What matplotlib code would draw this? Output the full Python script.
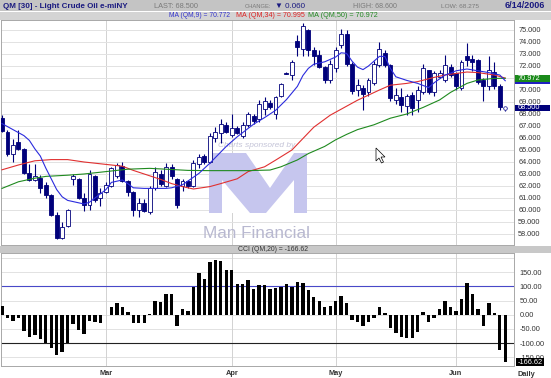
import numpy as np
import pandas as pd
import matplotlib
matplotlib.use('Agg')
import matplotlib.pyplot as plt
from matplotlib.transforms import Affine2D, blended_transform_factory
from matplotlib.patches import Rectangle, Polygon

# ---------------- data ----------------
dates = pd.bdate_range('2006-02-01', '2006-06-14')
holidays = pd.to_datetime(['2006-02-20', '2006-04-14', '2006-05-29'])
dates = dates[~dates.isin(holidays)]

opens = [67.7, 66.5, 64.7, 65.7, 65.1, 63.1, 62.5, 62.7, 62.1, 61.25,
         59.6, 57.65, 58.7, 62.55, 62.6, 61.0, 60.4, 62.8, 61.0, 61.5,
         62.0, 62.8, 63.7, 62.4, 61.5, 60.0, 60.6, 59.85, 61.8, 63.0,
         62.0, 63.6, 62.6, 62.0, 62.4, 62.0, 63.8, 64.5, 64.0, 66.0,
         66.4, 67.1, 66.25, 66.8, 66.2, 67.1, 67.8, 67.6, 68.4, 68.95,
         68.0, 69.5, 71.4, 71.25, 74.1, 73.4, 75.0, 73.3, 72.9, 71.95,
         70.85, 71.8, 73.75, 74.65, 72.2, 70.0, 70.2, 69.8, 70.6, 72.1,
         73.05, 72.1, 69.2, 69.45, 68.7, 69.6, 69.2, 69.85, 71.65, 69.85,
         71.1, 70.8, 71.95, 71.4, 70.15, 72.8, 72.6, 72.5, 70.85, 70.3,
         71.5, 70.3, 68.5]
highs = [67.9, 66.7, 65.9, 66.7, 65.2, 63.8, 63.8, 62.9, 62.3, 61.3,
         59.8, 59.0, 60.1, 63.0, 62.7, 61.4, 63.3, 62.9, 61.8, 62.3,
         63.6, 63.9, 64.0, 62.5, 61.6, 61.0, 60.9, 62.0, 63.6, 63.3,
         63.9, 63.8, 62.7, 62.6, 62.5, 64.2, 64.7, 64.7, 66.4, 66.9,
         67.6, 67.3, 68.0, 67.0, 67.3, 68.2, 68.0, 69.2, 69.4, 69.2,
         69.5, 70.6, 71.5, 72.5, 74.6, 75.6, 75.1, 73.6, 73.3, 72.0,
         72.5, 73.6, 75.1, 75.0, 72.3, 70.9, 70.4, 71.0, 72.4, 74.0,
         73.3, 72.2, 70.2, 70.2, 69.7, 69.8, 70.3, 72.2, 71.7, 71.6,
         71.7, 72.9, 72.2, 71.5, 72.5, 73.9, 72.9, 72.6, 71.0, 72.8,
         72.3, 70.5, 68.6]
lows = [66.5, 64.5, 64.0, 65.0, 63.0, 62.4, 62.4, 61.4, 61.0, 59.5,
        57.6, 57.6, 58.6, 62.1, 60.9, 59.9, 60.0, 60.7, 60.3, 61.4,
        61.9, 62.7, 62.3, 61.2, 59.5, 59.4, 59.8, 59.7, 61.7, 62.0,
        61.9, 62.6, 60.2, 61.6, 61.8, 61.9, 63.5, 63.8, 63.9, 65.7,
        65.6, 66.4, 66.1, 66.3, 66.0, 66.9, 67.2, 67.3, 67.9, 68.4,
        67.6, 69.4, 71.3, 70.8, 72.8, 72.8, 72.8, 72.1, 71.8, 70.6,
        70.6, 71.5, 73.5, 72.0, 69.7, 69.5, 68.3, 69.5, 70.4, 71.9,
        71.9, 69.1, 68.8, 68.2, 67.9, 67.9, 68.2, 69.7, 69.7, 69.5,
        71.0, 70.7, 71.1, 70.0, 70.0, 72.0, 71.6, 70.5, 69.1, 70.0,
        70.1, 68.3, 68.275]
closes = [66.6, 64.7, 65.4, 65.1, 63.05, 62.5, 62.8, 61.8, 61.25, 59.6,
          57.65, 58.6, 60.0, 62.8, 61.0, 60.45, 63.0, 60.8, 61.45, 62.1,
          63.5, 63.75, 62.4, 61.5, 60.0, 60.6, 59.95, 61.8, 63.2, 62.2,
          63.6, 62.8, 60.4, 62.4, 62.0, 63.9, 64.4, 64.0, 66.2, 66.5,
          67.2, 66.5, 66.8, 66.4, 67.1, 68.0, 67.4, 68.8, 69.1, 68.55,
          69.4, 70.5, 71.35, 72.3, 73.6, 75.3, 73.3, 72.8, 71.95, 70.85,
          72.2, 73.3, 74.7, 72.2, 69.95, 70.4, 69.7, 70.8, 72.2, 73.4,
          72.1, 69.3, 69.6, 68.75, 69.5, 68.5, 70.0, 71.8, 69.85, 71.4,
          71.4, 72.1, 71.25, 70.3, 72.35, 72.5, 72.35, 70.7, 70.35, 71.65,
          70.3, 68.56, 68.5]

# moving averages (bar index, value)
ma9_idx = [0, 2, 4, 5, 6, 7, 8, 9, 10, 11, 12, 13, 15, 16, 17, 19, 20, 22, 23, 24,
           26, 28, 30, 31, 33, 36, 38, 41, 43, 46, 48, 50, 52, 54, 55, 56, 57, 59, 61,
           62, 63, 64, 65, 66, 67, 68, 69, 70, 71, 72, 74, 76, 78, 79, 81, 82, 83, 85,
           87, 89, 91, 92]
ma9_val = [67.2, 66.7, 66.2, 65.8, 65.1, 64.5, 63.5, 62.6, 61.7, 61.1, 60.8, 60.7,
           60.5, 60.65, 61.0, 61.7, 62.3, 62.5, 62.2, 61.85, 61.8, 61.8, 61.8, 61.85,
           62.1, 63.05, 63.9, 65.3, 66.1, 67.15, 67.7, 68.3, 69.2, 70.3, 71.2, 71.8,
           72.15, 72.35, 72.75, 73.1, 73.05, 72.4, 71.9, 71.7, 72.0, 72.4, 72.8, 72.8,
           71.8, 71.1, 70.8, 70.55, 70.2, 70.6, 71.25, 71.4, 71.6, 71.75, 71.6, 71.45,
           71.25, 70.772]
ma34_idx = [0, 3, 6, 9, 12, 15, 19, 22, 24, 26, 29, 31, 33, 35, 38, 40, 43, 45, 48,
            50, 53, 55, 57, 60, 62, 65, 69, 71, 74, 76, 79, 81, 85, 87, 90, 92]
ma34_val = [63.35, 63.75, 64.1, 64.2, 64.2, 64.0, 63.8, 63.65, 63.3, 63.0, 62.55,
            62.2, 61.95, 61.75, 61.95, 62.2, 62.6, 63.2, 63.6, 64.15, 65.0, 65.95,
            66.9, 67.9, 68.4, 69.15, 70.0, 70.4, 70.55, 70.7, 71.05, 71.25, 71.5,
            71.45, 71.25, 70.995]
ma50_idx = [0, 3, 6, 8, 12, 15, 19, 23, 27, 30, 34, 38, 42, 45, 49, 51, 54, 56, 59,
            61, 63, 65, 68, 71, 74, 77, 80, 82, 85, 87, 90, 92]
ma50_val = [61.8, 62.35, 62.65, 62.8, 62.9, 63.0, 63.2, 63.4, 63.47, 63.4, 63.3,
            63.28, 63.28, 63.28, 63.33, 63.6, 64.17, 64.7, 65.3, 65.85, 66.3, 66.7,
            67.1, 67.65, 68.0, 68.55, 69.17, 69.8, 70.55, 70.83, 70.97, 70.972]

cci = [30, -12, -23, -12, -56, -77, -71, -87, -98, -117,
       -142, -133, -98, -33, -54, -67, -23, -26, -30, -2,
       26, 42, 28, 10, -29, -29, -29, 3, 49, 46,
       72, 72, -39, 20, 14, 98, 148, 127, 187, 192,
       190, 157, 157, 108, 108, 122, 92, 105, 105, 92,
       96, 98, 108, 98, 117, 111, 88, 63, 49, 26,
       32, 49, 67, 41, -19, -27, -41, -25, -13, 28,
       8, -48, -66, -80, -83, -83, -62, 11, -25, -13,
       20, 47, 26, 12, 57, 112, 73, 20, -39, 40,
       8, -123, -166.62]

price_ticks = list(range(58, 76))
cci_ticks = [-150, -100, -50, 0, 50, 100, 150]

last, change, high, low = 68.5, 0.06, 68.6, 68.275
ma9_last, ma34_last, ma50_last = 70.772, 70.995, 70.972
cci_last = -166.62

# ---------------- figure ----------------
W, H = 551, 378
fig = plt.figure(figsize=(W / 100, H / 100), dpi=100)
fig.patch.set_facecolor('white')
PX = Affine2D().scale(1 / W, -1 / H).translate(0, 1) + fig.transFigure
renderer = fig.canvas.get_renderer()
FAM = ['Liberation Sans Narrow', 'Liberation Sans', 'DejaVu Sans']
AX_FAM = ['Liberation Sans', 'DejaVu Sans']

NAVY = '#00007a'
n = len(closes)
x = np.arange(n)
month_pos = [i for i in range(1, n) if dates[i].month != dates[i - 1].month]
month_lab = [dates[i].strftime('%b') for i in month_pos]

L, R = 1, 514
xl = ((L - 2) / 5.47, (R - 2) / 5.47)
ax = fig.add_axes([L / W, 1 - 245 / H, (R - L) / W, (245 - 20) / H])
ax2 = fig.add_axes([L / W, 1 - 366 / H, (R - L) / W, (366 - 253) / H])

for a in (ax, ax2):
    a.set_xlim(*xl)
    a.set_facecolor('white')
    for s in a.spines.values():
        s.set_color('#a8a8a8')
        s.set_linewidth(0.7)
    a.set_xticks(month_pos)
    a.grid(axis='x', color='#d2d2d2', lw=0.7, zorder=0)
    a.set_axisbelow(True)

# price panel
ax.set_ylim(57.083, 75.833)
ax.yaxis.tick_right()
ax.set_yticks(price_ticks)
# the 71.000 label is hidden behind the MA value boxes in the original
ax.set_yticklabels(['' if v == 71 else f'{v:.3f}' for v in price_ticks])
ax.tick_params(axis='y', length=0, pad=3, labelsize=5.3, labelcolor='#333333')
ax.tick_params(axis='x', length=0, labelbottom=False)
for lab in ax.get_yticklabels():
    lab.set_family(AX_FAM)
ax.grid(axis='y', color='#e2e2e2', lw=0.7, zorder=0)

# watermark (pixel coords)
LOGO = '#c6c6ee'
ax.add_patch(Polygon([(209, 213), (209, 153), (307, 153), (307, 213)], closed=True,
                     transform=PX, fc=LOGO, ec='none', zorder=1.5))
ax.add_patch(Polygon([(246, 153), (294, 153), (270, 188)], closed=True,
                     transform=PX, fc='white', ec='none', zorder=1.6))
ax.add_patch(Polygon([(222, 213), (222, 180), (250, 213)], closed=True,
                     transform=PX, fc='white', ec='none', zorder=1.6))
ax.add_patch(Polygon([(294, 213), (294, 180), (266, 213)], closed=True,
                     transform=PX, fc='white', ec='none', zorder=1.6))


def fit_text(target, x0, x1, y, s, color, weight='normal', style='normal',
             family=FAM, zorder=3):
    kw = dict(fontsize=10, color=color, weight=weight, style=style, family=family,
              va='center', ha='left')
    if target is fig:
        t = fig.text(x0 / W, 1 - y / H, s, **kw)
    else:
        t = target.text(x0, y, s, transform=PX, zorder=zorder, clip_on=False, **kw)
    bb = t.get_window_extent(renderer)
    t.set_fontsize(10 * (x1 - x0) / bb.width)
    return t


fit_text(ax, 218, 295, 145.5, 'Charts sponsored by', '#c4c4d8', style='italic',
         zorder=1.7)
fit_text(ax, 203, 310, 233, 'Man Financial', '#b8b8d0', zorder=1.7)

# candles
up = np.array(closes) >= np.array(opens)
ax.vlines(x, lows, highs, color=NAVY, lw=0.8, zorder=3)
bot = np.minimum(opens, closes)
hgt = np.maximum(np.abs(np.array(closes) - np.array(opens)), 0.04)
ax.bar(x, hgt, bottom=bot, width=0.72, color=np.where(up, 'white', NAVY),
       edgecolor=NAVY, linewidth=0.6, zorder=4)
ax.plot([x[-1]], [closes[-1]], marker='o', ms=2.6, mfc='white', mec='#3030a0',
        mew=0.6, zorder=6)

# moving averages
ax.plot(ma34_idx, ma34_val, color='#e03030', lw=0.8, zorder=5)
ax.plot(ma50_idx, ma50_val, color='#1f8a1f', lw=0.8, zorder=5)
ax.plot(ma9_idx, ma9_val, color='#2b2bdd', lw=0.8, zorder=5)

# cursor
tip = np.array([376, 148])
cur = tip + np.array([(0, 0), (0, 13), (3, 10), (5.5, 15), (7.5, 14), (5, 9), (9, 9)])
ax.add_patch(Polygon(cur, closed=True, transform=PX, fc='white', ec='black', lw=0.5,
                     zorder=7))

# boxed price labels (red and blue boxes sit under the green one)
blend = blended_transform_factory(PX, ax.transData)
for val, col, show in [(ma34_last, '#d02020', False), (ma9_last, '#2020c0', False),
                       (ma50_last, '#1a8a1a', True), (last, NAVY, True)]:
    ax.add_patch(Rectangle((515, val - 0.29), 35, 0.58, transform=blend, fc=col,
                           ec='none', clip_on=False, zorder=10))
    if show:
        ax.text(517.5, val, f'{val:.3f}', transform=blend, color='white',
                fontsize=5.3, family=AX_FAM, va='center', ha='left',
                clip_on=False, zorder=11)

# CCI panel
ax2.set_ylim(-180.7, 218)
ax2.yaxis.tick_right()
ax2.set_yticks(cci_ticks)
ax2.set_yticklabels([f'{v:.2f}' for v in cci_ticks])
ax2.tick_params(axis='y', length=0, pad=4, labelsize=5.3, labelcolor='#333333')
for lab in ax2.get_yticklabels():
    lab.set_family(AX_FAM)
for g in [200, 150, 50, 0, -50, -150]:
    ax2.axhline(g, color='#e2e2e2', lw=0.7, zorder=0)
ax2.axhline(100, color='#4848c8', lw=0.8, zorder=1)
ax2.axhline(-100, color='#222222', lw=0.8, zorder=1)
ax2.bar(x, cci, width=0.62, color='black', zorder=3)
ax2.set_xticklabels(month_lab)
ax2.tick_params(axis='x', length=0, pad=3, labelsize=5.3, labelcolor='#333333')
for lab in ax2.get_xticklabels():
    lab.set_family(AX_FAM)
    lab.set_weight('bold')
blend2 = blended_transform_factory(PX, ax2.transData)
ax2.add_patch(Rectangle((516, cci_last - 14), 28, 28, transform=blend2, fc='black',
                        ec='none', clip_on=False, zorder=10))
ax2.text(517.5, cci_last, f'{cci_last:.2f}', transform=blend2, color='white',
         fontsize=5.3, family=AX_FAM, va='center', ha='left', clip_on=False,
         zorder=11)
fig.text(518 / W, 1 - 374 / H, 'Daily', fontsize=5.3, color='#333333', weight='bold',
         family=AX_FAM, va='center', ha='left')

# header bars
fig.patches.append(Rectangle((0, 0), W, 11, transform=PX, fc='#c4c4c4', ec='none'))
fig.patches.append(Rectangle((0, 11.8), W, 7.8, transform=PX, fc='#d4d4d4', ec='none'))
fig.patches.append(Rectangle((0, 245.5), W, 7.5, transform=PX, fc='#c8c8c8', ec='none'))

fit_text(fig, 3.3, 127, 6, 'QM [30] - Light Crude Oil e-miNY', '#1a1a80', weight='bold')
fit_text(fig, 154, 198, 6, f'LAST: {last:.3f}', '#7a7a7a')
fit_text(fig, 245, 272, 6, 'CHANGE:', '#7a7a7a')
fit_text(fig, 275, 305, 6, f'\u25bc {change:.3f}', '#1a1a80', family=AX_FAM)
fit_text(fig, 353, 397, 6, f'HIGH: {high:.3f}', '#7a7a7a')
fit_text(fig, 441, 479, 6, f'LOW: {low:.3f}', '#7a7a7a')
fit_text(fig, 505, 545, 6, dates[-1].strftime('%-m/%-d/%Y'), '#1a1a80', weight='bold')
fit_text(fig, 169, 230, 15.5, f'MA (QM,9) = {ma9_last:.3f}', '#3333cc')
fit_text(fig, 236, 304, 15.5, f'MA (QM,34) = {ma34_last:.3f}', '#dd2222')
fit_text(fig, 308, 378, 15.5, f'MA (QM,50) = {ma50_last:.3f}', '#228822')
fit_text(fig, 238, 308, 249.5, f'CCI (QM,20) = {cci_last:.2f}', '#333333')

fig.savefig('out.png', dpi=100)
